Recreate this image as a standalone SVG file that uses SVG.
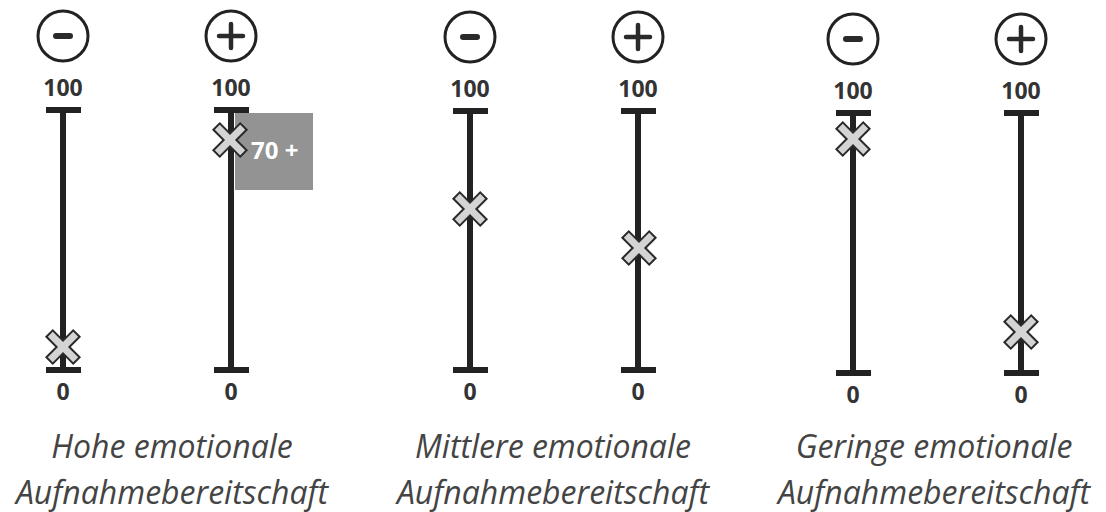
<svg xmlns="http://www.w3.org/2000/svg" width="1106" height="512" viewBox="0 0 1106 512">
<style>
.axis{stroke:#222;stroke-width:6;fill:none}
.circ{stroke:#222;stroke-width:3;fill:none}
.sign{stroke:#2a2a2a;stroke-width:5;stroke-linecap:round;fill:none}
.num{font-family:"Open Sans",sans-serif;font-weight:bold;font-size:23px;fill:#333;text-anchor:middle}
.cap{font-family:"Open Sans",sans-serif;font-style:italic;font-size:32px;fill:#444;text-anchor:middle}
.xm{fill:#d4d4d4;stroke:#2a2a2a;stroke-width:2;stroke-linejoin:miter}
</style>
<defs>
<polygon id="xmark" class="xm" transform="rotate(45)" points="-4.5,-19 4.5,-19 4.5,-4.5 19,-4.5 19,4.5 4.5,4.5 4.5,19 -4.5,19 -4.5,4.5 -19,4.5 -19,-4.5 -4.5,-4.5"/>
<g id="minus"><circle class="circ" r="25"/><line class="sign" x1="-7" y1="0" x2="7" y2="0" style="stroke-width:6"/></g>
<g id="plus"><circle class="circ" r="25"/><line class="sign" x1="-12" y1="0" x2="12" y2="0" style="stroke-width:4.5"/><line class="sign" x1="0" y1="-12" x2="0" y2="12" style="stroke-width:4.5"/></g>
</defs>

<g id="group-high">
  <g id="high-minus">
    <use href="#minus" x="63" y="36"/>
    <text class="num" x="63" y="96">100</text>
    <line class="axis" x1="46" y1="110" x2="81" y2="110"/>
    <line class="axis" x1="63" y1="110" x2="63" y2="370"/>
    <line class="axis" x1="46" y1="370" x2="81" y2="370"/>
    <text class="num" x="63" y="400">0</text>
    <use href="#xmark" transform="translate(63,347)"/>
  </g>
  <g id="high-plus">
    <use href="#plus" x="231" y="36"/>
    <text class="num" x="231" y="96">100</text>
    <rect x="235" y="113" width="78" height="77" fill="#939393"/>
    <line class="axis" x1="214" y1="110" x2="249" y2="110"/>
    <line class="axis" x1="231" y1="110" x2="231" y2="370"/>
    <line class="axis" x1="214" y1="370" x2="249" y2="370"/>
    <text class="num" x="231" y="400">0</text>
    <use href="#xmark" transform="translate(230,140)"/>
    <text x="251" y="159" style="font-family:'Open Sans',sans-serif;font-weight:bold;font-size:24px;fill:#fff">70 +</text>
  </g>
  <text class="cap" x="172" y="458">Hohe emotionale</text>
  <text class="cap" x="172" y="504">Aufnahmebereitschaft</text>
</g>

<g id="group-mid">
  <g id="mid-minus">
    <use href="#minus" x="470" y="37"/>
    <text class="num" x="470" y="97">100</text>
    <line class="axis" x1="453" y1="111" x2="488" y2="111"/>
    <line class="axis" x1="470" y1="111" x2="470" y2="370"/>
    <line class="axis" x1="453" y1="370" x2="488" y2="370"/>
    <text class="num" x="470" y="400">0</text>
    <use href="#xmark" transform="translate(470,209)"/>
  </g>
  <g id="mid-plus">
    <use href="#plus" x="638" y="37"/>
    <text class="num" x="638" y="97">100</text>
    <line class="axis" x1="621" y1="111" x2="656" y2="111"/>
    <line class="axis" x1="638" y1="111" x2="638" y2="370"/>
    <line class="axis" x1="621" y1="370" x2="656" y2="370"/>
    <text class="num" x="638" y="400">0</text>
    <use href="#xmark" transform="translate(639,248)"/>
  </g>
  <text class="cap" x="553" y="458">Mittlere emotionale</text>
  <text class="cap" x="553" y="504">Aufnahmebereitschaft</text>
</g>

<g id="group-low">
  <g id="low-minus">
    <use href="#minus" x="853" y="39"/>
    <text class="num" x="853" y="99">100</text>
    <line class="axis" x1="836" y1="113" x2="871" y2="113"/>
    <line class="axis" x1="853" y1="113" x2="853" y2="373"/>
    <line class="axis" x1="836" y1="373" x2="871" y2="373"/>
    <text class="num" x="853" y="403">0</text>
    <use href="#xmark" transform="translate(853,139)"/>
  </g>
  <g id="low-plus">
    <use href="#plus" x="1021" y="39"/>
    <text class="num" x="1021" y="99">100</text>
    <line class="axis" x1="1004" y1="113" x2="1039" y2="113"/>
    <line class="axis" x1="1021" y1="113" x2="1021" y2="373"/>
    <line class="axis" x1="1004" y1="373" x2="1039" y2="373"/>
    <text class="num" x="1021" y="403">0</text>
    <use href="#xmark" transform="translate(1021,332)"/>
  </g>
  <text class="cap" x="934" y="458">Geringe emotionale</text>
  <text class="cap" x="934" y="504">Aufnahmebereitschaft</text>
</g>
</svg>
